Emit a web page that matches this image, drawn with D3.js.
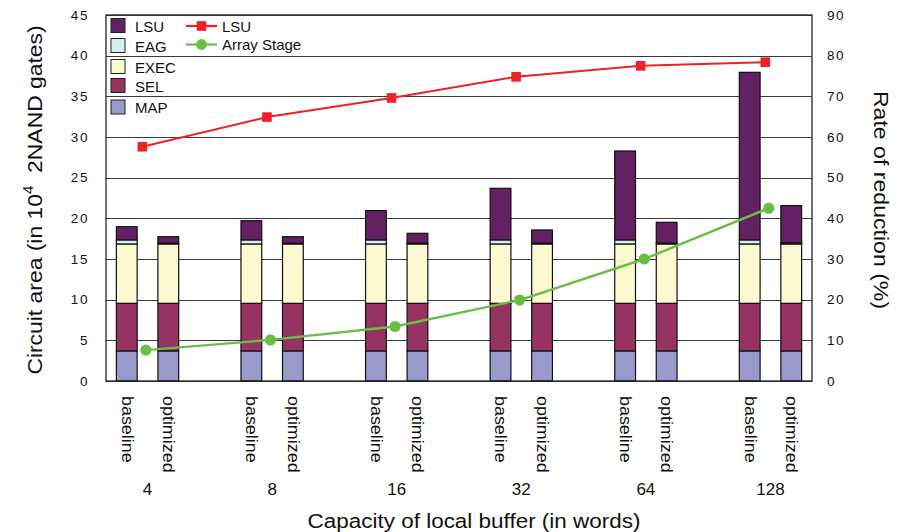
<!DOCTYPE html>
<html>
<head>
<meta charset="utf-8">
<script src="https://cdn.jsdelivr.net/npm/d3@7"></script>
<style>
  html, body { margin: 0; padding: 0; background: #fff; }
  svg { display: block; font-family: "Liberation Sans", Arial, sans-serif; }
</style>
</head>
<body>
<svg id="chart" width="910" height="532"></svg>
<script>
// Buffer capacities (words) and the two design variants per capacity
const capacities = ["4", "8", "16", "32", "64", "128"];
const variants = ["baseline", "optimized"];

// Circuit area per component, in 10^4 2NAND gates
const mapBaseline  = [3.7, 3.7, 3.7, 3.7, 3.7, 3.7];
const mapOptimized = [3.7, 3.7, 3.7, 3.7, 3.7, 3.7];
const selBaseline  = [5.85, 5.85, 5.85, 5.85, 5.85, 5.85];
const selOptimized = [5.85, 5.85, 5.85, 5.85, 5.85, 5.85];
const execBaseline  = [7.3, 7.3, 7.3, 7.3, 7.3, 7.3];
const execOptimized = [7.3, 7.3, 7.3, 7.3, 7.3, 7.3];
const eagBaseline  = [0.5, 0.5, 0.5, 0.5, 0.5, 0.5];
const eagOptimized = [0.1, 0.1, 0.1, 0.1, 0.1, 0.15];
const lsuBaseline  = [1.62, 2.36, 3.6, 6.34, 10.93, 20.6];
const lsuOptimized = [0.79, 0.79, 1.21, 1.62, 2.56, 4.57];

// Rate of reduction (%)
const lsuReduction   = [57.6, 64.9, 69.6, 74.8, 77.5, 78.4];
const arrayReduction = [7.6, 10.1, 13.4, 19.9, 30.0, 42.5];

// Axis ticks
const areaTicks = [0, 5, 10, 15, 20, 25, 30, 35, 40, 45];
const rateTicks = [0, 10, 20, 30, 40, 50, 60, 70, 80, 90];

const components = ["MAP", "SEL", "EXEC", "EAG", "LSU"];
const componentColors = {
  MAP: "#9A99CB", SEL: "#963362", EXEC: "#FCF8CF", EAG: "#D5EEF3", LSU: "#632062"
};
const legendOrder = ["LSU", "EAG", "EXEC", "SEL", "MAP"];

const svg = d3.select("#chart");
const plot = { left: 106, right: 812, top: 15, bottom: 381 };

// Rows for the stacked bars
const rows = [];
capacities.forEach((c, i) => {
  rows.push({ key: c + "|baseline", variant: "baseline", cap: c,
    MAP: mapBaseline[i], SEL: selBaseline[i], EXEC: execBaseline[i], EAG: eagBaseline[i], LSU: lsuBaseline[i] });
  rows.push({ key: c + "|optimized", variant: "optimized", cap: c,
    MAP: mapOptimized[i], SEL: selOptimized[i], EXEC: execOptimized[i], EAG: eagOptimized[i], LSU: lsuOptimized[i] });
});

// Slot domain: two bars per capacity with an empty slot between groups
const slots = [];
capacities.forEach((c, i) => {
  slots.push(c + "|baseline", c + "|optimized");
  if (i < capacities.length - 1) slots.push(c + "|gap");
});

const x = d3.scaleBand().domain(slots).range([plot.left, plot.right])
  .paddingInner(0.5).paddingOuter(0.25);
const y = d3.scaleLinear().domain([0, 45]).range([plot.bottom, plot.top]);
const yRate = d3.scaleLinear().domain([0, 90]).range([plot.bottom, plot.top]);

// Horizontal gridlines
svg.append("g")
  .selectAll("line").data(areaTicks).join("line")
  .attr("x1", plot.left).attr("x2", plot.right)
  .attr("y1", d => Math.round(y(d)) + 0.5).attr("y2", d => Math.round(y(d)) + 0.5)
  .attr("stroke", "#3a3a3a").attr("stroke-width", 1.1);

// Stacked bars
const stacked = d3.stack().keys(components)(rows);
svg.append("g")
  .selectAll("g").data(stacked).join("g")
  .attr("fill", d => componentColors[d.key])
  .selectAll("rect").data(d => d).join("rect")
  .attr("x", d => x(d.data.key))
  .attr("width", x.bandwidth())
  .attr("y", d => y(d[1]))
  .attr("height", d => y(d[0]) - y(d[1]))
  .attr("stroke", "#111").attr("stroke-width", 1.2);

// Reduction lines (right axis)
const groupX = (i, f) => x(capacities[i] + "|baseline") + x.bandwidth() * f;
const lsuLine = d3.line().x((d, i) => groupX(i, 1.25)).y(d => yRate(d));
const arrLine = d3.line().x((d, i) => groupX(i, 1.42)).y(d => yRate(d));

svg.append("path").datum(lsuReduction)
  .attr("d", lsuLine).attr("fill", "none").attr("stroke", "#EE2127").attr("stroke-width", 2);
svg.append("g").selectAll("rect").data(lsuReduction).join("rect")
  .attr("x", (d, i) => groupX(i, 1.25) - 4.8).attr("y", d => yRate(d) - 4.8)
  .attr("width", 9.6).attr("height", 9.6).attr("fill", "#EE2127");

svg.append("path").datum(arrayReduction)
  .attr("d", arrLine).attr("fill", "none").attr("stroke", "#6BBE45").attr("stroke-width", 2.4);
svg.append("g").selectAll("circle").data(arrayReduction).join("circle")
  .attr("cx", (d, i) => groupX(i, 1.42)).attr("cy", d => yRate(d))
  .attr("r", 5.6).attr("fill", "#6BBE45");

// Frame: left, right and bottom axis lines
svg.append("rect")
  .attr("x", plot.left).attr("y", plot.top)
  .attr("width", plot.right - plot.left).attr("height", plot.bottom - plot.top)
  .attr("fill", "none").attr("stroke", "#222").attr("stroke-width", 1.3);

// Left axis tick labels
svg.append("g").selectAll("text").data(areaTicks).join("text")
  .attr("x", 89).attr("y", d => y(d))
  .attr("text-anchor", "end").attr("dominant-baseline", "central")
  .attr("font-size", 13.5).attr("letter-spacing", 1.6).attr("fill", "#111")
  .text(d => d);

// Right axis tick labels
svg.append("g").selectAll("text").data(rateTicks).join("text")
  .attr("x", 827).attr("y", d => yRate(d))
  .attr("text-anchor", "start").attr("dominant-baseline", "central")
  .attr("font-size", 13.5).attr("letter-spacing", 1.6).attr("fill", "#111")
  .text(d => d);

// Variant labels under each bar
svg.append("g").selectAll("text").data(rows).join("text")
  .attr("transform", d => `translate(${x(d.key) + x.bandwidth() / 2},396) rotate(90) scale(1.12,1)`)
  .attr("dominant-baseline", "central")
  .attr("font-size", 16).attr("fill", "#111")
  .text(d => d.variant);

// Capacity labels
svg.append("g").selectAll("text").data(capacities).join("text")
  .attr("x", (d, i) => groupX(i, 1.5)).attr("y", 495)
  .attr("text-anchor", "middle").attr("font-size", 17).attr("fill", "#111")
  .text(d => d);

// Axis titles
svg.append("text")
  .attr("transform", "translate(474,528) scale(1.07,1)")
  .attr("text-anchor", "middle").attr("font-size", 21).attr("fill", "#111")
  .text("Capacity of local buffer (in words)");

const leftTitle = svg.append("text")
  .attr("transform", "translate(42,200) rotate(-90) scale(1.09,1)")
  .attr("text-anchor", "middle").attr("font-size", 21).attr("fill", "#111");
leftTitle.append("tspan").text("Circuit area (in 10");
leftTitle.append("tspan").attr("font-size", 14).attr("dy", -9).text("4");
leftTitle.append("tspan").attr("dy", 9).text("\u00a0 2NAND gates)");

svg.append("text")
  .attr("transform", "translate(874,200) rotate(90) scale(1.1,1)")
  .attr("text-anchor", "middle").attr("font-size", 21).attr("fill", "#111")
  .text("Rate of reduction (%)");

// Legend: components
const legendY = [18.5, 38.5, 59.5, 78.5, 100];
const legend = svg.append("g");
legend.selectAll("rect").data(legendOrder).join("rect")
  .attr("x", 111).attr("y", (d, i) => legendY[i])
  .attr("width", 14).attr("height", 14)
  .attr("fill", d => componentColors[d]).attr("stroke", "#222").attr("stroke-width", 1);
legend.selectAll("text").data(legendOrder).join("text")
  .attr("x", 135).attr("y", (d, i) => legendY[i] + 7.5)
  .attr("dominant-baseline", "central").attr("font-size", 15).attr("fill", "#111")
  .text(d => d);

// Legend: lines
const lineLegend = [
  { label: "LSU", color: "#EE2127", shape: "square", y: 26 },
  { label: "Array Stage", color: "#6BBE45", shape: "circle", y: 44.5 }
];
lineLegend.forEach(item => {
  legend.append("line").attr("x1", 186).attr("x2", 217).attr("y1", item.y).attr("y2", item.y)
    .attr("stroke", item.color).attr("stroke-width", 2.2);
  if (item.shape === "square") {
    legend.append("rect").attr("x", 201.5 - 4.8).attr("y", item.y - 4.8)
      .attr("width", 9.6).attr("height", 9.6).attr("fill", item.color);
  } else {
    legend.append("circle").attr("cx", 201.5).attr("cy", item.y).attr("r", 5.4).attr("fill", item.color);
  }
  legend.append("text").attr("x", 222).attr("y", item.y)
    .attr("dominant-baseline", "central").attr("font-size", 15).attr("fill", "#111")
    .text(item.label);
});
</script>
</body>
</html>
